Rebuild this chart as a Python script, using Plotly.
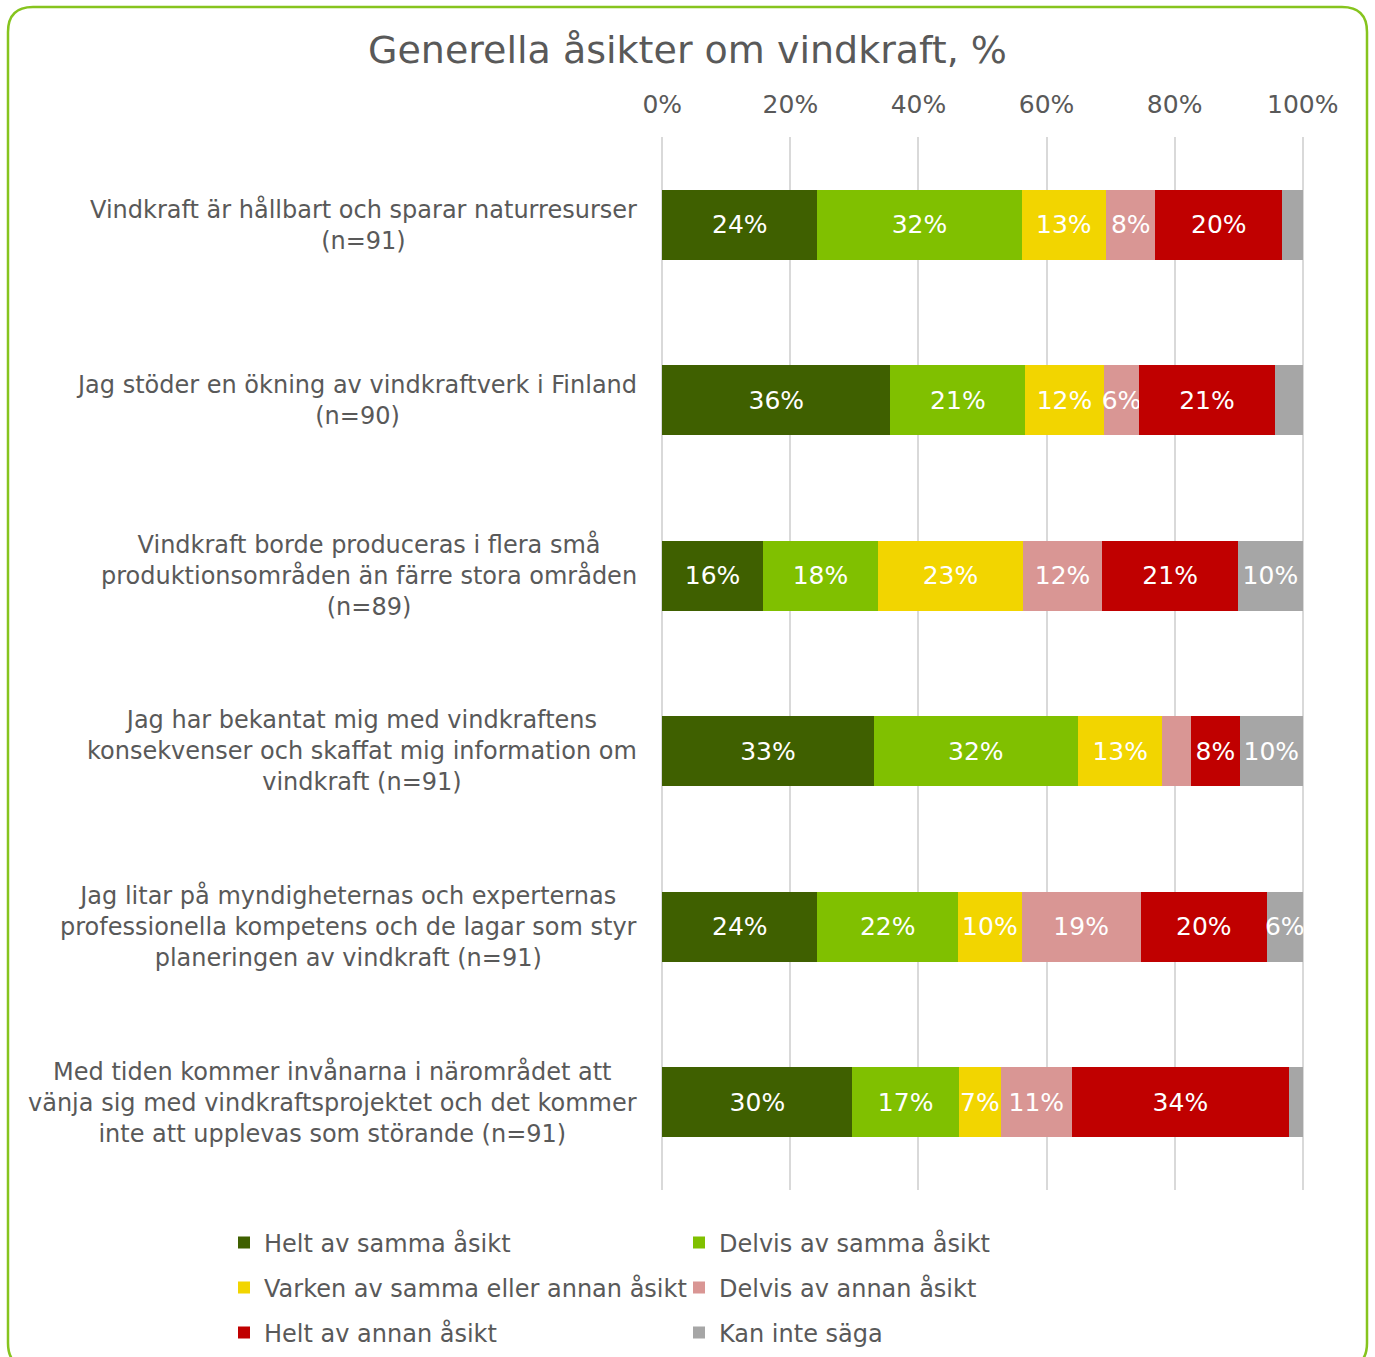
import plotly.graph_objects as go

categories = [
    "Vindkraft är hållbart och sparar naturresurser<br>(n=91)",
    "Jag stöder en ökning av vindkraftverk i Finland<br>(n=90)",
    "Vindkraft borde produceras i flera små<br>produktionsområden än färre stora områden<br>(n=89)",
    "Jag har bekantat mig med vindkraftens<br>konsekvenser och skaffat mig information om<br>vindkraft (n=91)",
    "Jag litar på myndigheternas och experternas<br>professionella kompetens och de lagar som styr<br>planeringen av vindkraft (n=91)",
    "Med tiden kommer invånarna i närområdet att<br>vänja sig med vindkraftsprojektet och det kommer<br>inte att upplevas som störande (n=91)",
]

series_names = [
    "Helt av samma åsikt",
    "Delvis av samma åsikt",
    "Varken av samma eller annan åsikt",
    "Delvis av annan åsikt",
    "Helt av annan åsikt",
    "Kan inte säga",
]

helt_samma = [24.2, 35.6, 15.7, 33.0, 24.2, 29.7]
delvis_samma = [31.9, 21.1, 18.0, 31.9, 22.0, 16.6]
varken = [13.2, 12.2, 22.6, 13.2, 9.9, 6.6]
delvis_annan = [7.7, 5.6, 12.4, 4.4, 18.6, 11.0]
helt_annan = [19.8, 21.1, 21.2, 7.7, 19.7, 34.0]
kan_inte = [3.2, 4.4, 10.1, 9.8, 5.6, 2.1]

tick_vals = [0, 20, 40, 60, 80, 100]
tick_text = ["0%", "20%", "40%", "60%", "80%", "100%"]

series_values = [helt_samma, delvis_samma, varken, delvis_annan, helt_annan, kan_inte]
colors = ["#3F6000", "#80C000", "#F2D500", "#D99694", "#C00000", "#A6A6A6"]
legend_ids = ["legend", "legend2", "legend3", "legend4", "legend5", "legend6"]

FONT = "DejaVu Sans"
GRAY = "#595959"

fig = go.Figure()
for name, vals, col, lg in zip(series_names, series_values, colors, legend_ids):
    fig.add_trace(go.Bar(
        y=categories, x=vals, name=name, orientation="h",
        marker=dict(color=col, line=dict(width=0)),
        text=[f"{v:.0f}%" if v >= 5 else "" for v in vals],
        textposition="inside", insidetextanchor="middle", textangle=0,
        textfont=dict(family=FONT, size=25, color="white"),
        width=0.4, legend=lg, hoverinfo="x+name",
    ))

W, H = 1375, 1357
L, R, T, B = 661, 1304, 137, 1190
pw, ph = R - L, B - T


def px(x):
    return (x - L) / pw


def py(y):
    return (B - y) / ph


# rounded green frame
x0, x1, y0, y1 = px(8), px(1367), py(7), py(1368)
rx, ry = 25 / pw, 25 / ph
path = (f"M{x0+rx},{y0} L{x1-rx},{y0} Q{x1},{y0} {x1},{y0-ry} "
        f"L{x1},{y1+ry} Q{x1},{y1} {x1-rx},{y1} L{x0+rx},{y1} "
        f"Q{x0},{y1} {x0},{y1+ry} L{x0},{y0-ry} Q{x0},{y0} {x0+rx},{y0} Z")
fig.add_shape(type="path", path=path, xref="paper", yref="paper",
              line=dict(color="#86C41E", width=2.5), layer="above")

for c in categories:
    fig.add_annotation(x=0, y=c, xref="paper", yref="y", text=c,
                       xanchor="right", xshift=-22, align="center",
                       showarrow=False,
                       font=dict(family=FONT, size=24, color=GRAY))

leg_common = dict(orientation="h", xref="container", yref="container",
                  xanchor="left", yanchor="middle",
                  bgcolor="rgba(0,0,0,0)",
                  font=dict(family=FONT, size=24, color=GRAY), itemclick=False)
col_x = [224, 679]
row_y = [1243, 1288, 1333]
legends = {}
for i, lg in enumerate(legend_ids):
    legends[lg] = dict(x=col_x[i % 2] / W, y=1 - row_y[i // 2] / H, **leg_common)

fig.update_layout(
    width=W, height=H,
    margin=dict(l=L, r=W - R, t=T, b=H - B, autoexpand=False),
    paper_bgcolor="white", plot_bgcolor="white",
    barmode="stack", bargap=0.6,
    title=dict(text="Generella åsikter om vindkraft, %", x=0.5, xanchor="center",
               y=1 - 50 / H, yanchor="middle",
               font=dict(family=FONT, size=38, color=GRAY)),
    xaxis=dict(side="top", range=[-0.2, 100.2], tickvals=tick_vals, ticktext=tick_text,
               showgrid=True, gridcolor="#D9D9D9", gridwidth=2, zeroline=True,
               zerolinecolor="#D9D9D9", zerolinewidth=2,
               showline=False, ticks="", ticklabelstandoff=18,
               tickfont=dict(family=FONT, size=25, color=GRAY), fixedrange=True),
    yaxis=dict(categoryorder="array", categoryarray=categories, autorange="reversed",
               showticklabels=False, showgrid=False, zeroline=False, fixedrange=True),
    uniformtext=dict(minsize=25, mode="show"),
    showlegend=True,
    **legends,
)

fig.write_html("out.html", config={"displayModeBar": False},
               post_script="document.body.style.margin='0';")
